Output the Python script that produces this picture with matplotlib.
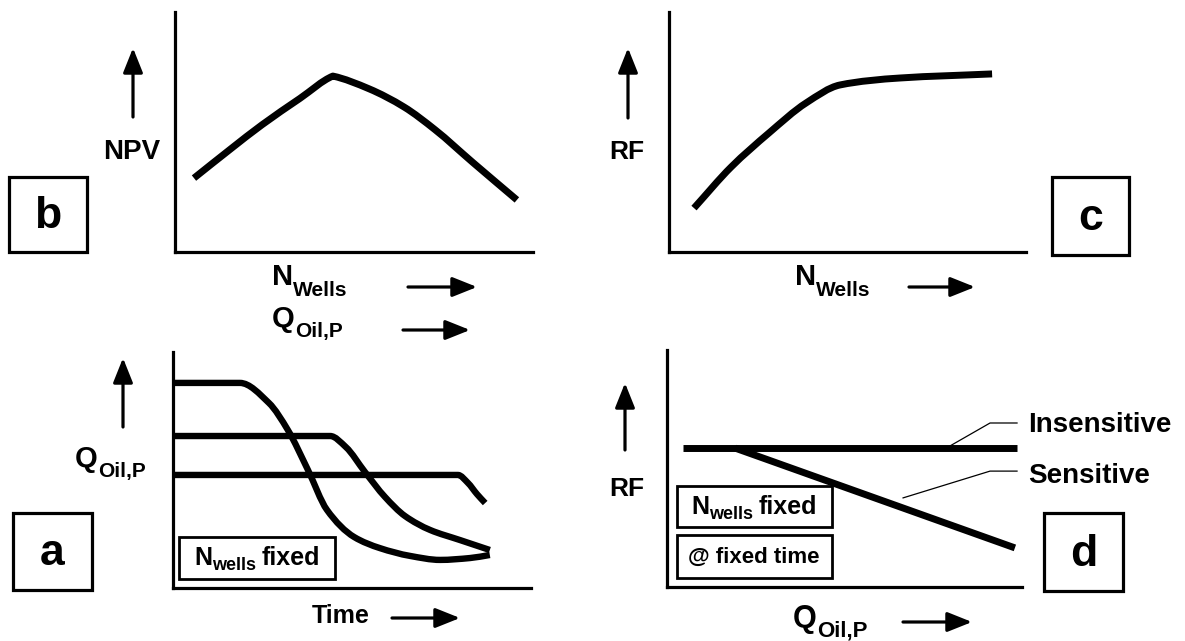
import matplotlib
matplotlib.use("Agg")
import matplotlib.pyplot as plt
from matplotlib.patches import Rectangle, PathPatch
from matplotlib.path import Path

plt.rcParams['font.family'] = ['Liberation Sans', 'DejaVu Sans']
plt.rcParams['font.weight'] = 'bold'

# ---------------- data (arbitrary 0-100 units) ----------------
# panel b: NPV vs number of wells
npv_x = [5.3, 15.6, 24.3, 34.9, 44.1, 54.2, 64.0, 72.6, 83.2, 95.5]
npv_y = [30.8, 43.0, 53.0, 64.0, 73.3, 68.0, 60.4, 51.0, 37.3, 21.7]

# panel c: RF vs number of wells
rf_wells_x = [7.0, 17.4, 28.0, 38.4, 47.9, 64.7, 90.5]
rf_wells_y = [18.3, 35.4, 49.6, 62.1, 69.6, 72.5, 74.2]

# panel a: oil rate vs time, three plateau rates
q_high_t = [0, 18.7, 26.8, 32.1, 37.7, 43.0, 50.6, 57.8, 66.2, 74.6, 83.0, 88.5]
q_high_q = [86.9, 86.9, 78.4, 66.9, 50.0, 33.1, 21.6, 16.9, 13.6, 11.9, 12.7, 14.0]
q_mid_t = [0, 43.9, 48.3, 53.6, 59.2, 64.8, 71.8, 80.2, 88.5]
q_mid_q = [64.4, 64.4, 59.7, 49.2, 38.6, 30.5, 24.6, 20.3, 16.1]
q_low_t = [0, 79.6, 82.4, 84.9, 87.2]
q_low_q = [47.9, 47.9, 44.5, 39.8, 36.0]

# panel d: RF vs plateau rate
insens_x = [4.5, 98.6]
insens_y = [58.6, 58.6]
sens_x = [19.2, 98.0]
sens_y = [58.6, 16.5]
lead_ins_x = [79.7, 91.0, 98.6]
lead_ins_y = [59.5, 69.2, 69.2]
lead_sen_x = [66.5, 91.0, 98.6]
lead_sen_y = [37.6, 48.9, 48.9]

W, H = 1185, 641
fig = plt.figure(figsize=(W / 100, H / 100), dpi=100)
fig.patch.set_facecolor('white')


def fx(x):
    return x / W


def fy(y):
    return 1 - y / H


def make_axes(l, t, r, b):
    ax = fig.add_axes([fx(l), fy(b), (r - l) / W, (b - t) / H])
    ax.set_xlim(0, 100)
    ax.set_ylim(0, 100)
    ax.set_xticks([])
    ax.set_yticks([])
    for s in ['top', 'right']:
        ax.spines[s].set_visible(False)
    for s in ['left', 'bottom']:
        ax.spines[s].set_linewidth(2.3)
    ax.patch.set_alpha(0)
    return ax


def smooth_curve(ax, xs, ys, lw, corners=False):
    """Draw a smooth curve through the points (monotone cubic Hermite rendered as Bezier).
    With corners=True a true local extremum is kept as a (rounded-join) corner."""
    n = len(xs)
    h = [xs[i + 1] - xs[i] for i in range(n - 1)]
    d = [(ys[i + 1] - ys[i]) / h[i] for i in range(n - 1)]
    ml = [0.0] * n
    mr = [0.0] * n
    ml[0] = mr[0] = d[0]
    ml[-1] = mr[-1] = d[-1]
    for i in range(1, n - 1):
        if d[i - 1] * d[i] < 0 and corners:
            ml[i] = d[i - 1] * 0.6
            mr[i] = d[i] * 0.6
        elif d[i - 1] * d[i] <= 0:
            ml[i] = mr[i] = 0.0
        else:
            w1 = 2 * h[i] + h[i - 1]
            w2 = h[i] + 2 * h[i - 1]
            ml[i] = mr[i] = (w1 + w2) / (w1 / d[i - 1] + w2 / d[i])
    verts = [(xs[0], ys[0])]
    codes = [Path.MOVETO]
    for i in range(n - 1):
        c1 = (xs[i] + h[i] / 3, ys[i] + mr[i] * h[i] / 3)
        c2 = (xs[i + 1] - h[i] / 3, ys[i + 1] - ml[i + 1] * h[i] / 3)
        verts += [c1, c2, (xs[i + 1], ys[i + 1])]
        codes += [Path.CURVE4] * 3
    patch = PathPatch(Path(verts, codes), facecolor='none', edgecolor='black',
                      lw=lw, capstyle='butt', joinstyle='round', clip_on=False)
    ax.add_patch(patch)


LW = 5.0
kw = dict(color='black', lw=LW, solid_capstyle='butt', solid_joinstyle='round', clip_on=False)

axb = make_axes(175, 12, 533, 252)
smooth_curve(axb, npv_x, npv_y, LW, corners=True)

axc = make_axes(669, 12, 1026, 252)
smooth_curve(axc, rf_wells_x, rf_wells_y, LW)

axa = make_axes(173, 352, 531, 588)
smooth_curve(axa, q_high_t, q_high_q, 4.6)
smooth_curve(axa, q_mid_t, q_mid_q, 4.6)
smooth_curve(axa, q_low_t, q_low_q, 4.6)

axd = make_axes(667, 350, 1022, 587)
axd.plot(insens_x, insens_y, **kw)
axd.plot(sens_x, sens_y, **kw)
axd.plot(lead_ins_x, lead_ins_y, color='black', lw=0.9, clip_on=False)
axd.plot(lead_sen_x, lead_sen_y, color='black', lw=0.9, clip_on=False)


# ---------------- arrows ----------------
def arrow(x0, y0, x1, y1):
    fig.add_artist(matplotlib.patches.FancyArrowPatch(
        (fx(x0), fy(y0)), (fx(x1), fy(y1)), transform=fig.transFigure,
        arrowstyle='-|>,head_length=0.6,head_width=0.24', mutation_scale=25,
        lw=2.3, color='black', shrinkA=0, shrinkB=0))


arrow(133, 117, 133, 48)
arrow(628, 118, 628, 48)
arrow(123, 427, 123, 358)
arrow(625, 450, 625, 383)
arrow(408, 287, 477, 287)
arrow(403, 330, 470, 330)
arrow(909, 287, 975, 287)
arrow(392, 618, 460, 618)
arrow(903, 622, 972, 622)


# ---------------- text ----------------
def txt(x, y, s, size, ha='left', va='baseline'):
    return fig.text(fx(x), fy(y), s, fontsize=size, ha=ha, va=va,
                    fontweight='bold', color='black')


renderer = fig.canvas.get_renderer()


def sub_label(x, y, parts, center=False):
    """parts: list of (text, size, drop_px, gap_px). Baseline at y (pixel from top)."""
    arts = []
    cx = x
    for (s, size, drop, gap) in parts:
        cx += gap
        t = txt(cx, y + drop, s, size)
        bb = t.get_window_extent(renderer)
        cx = bb.x1
        arts.append(t)
    if center:
        total = cx - x
        shift = -total / 2
        for t in arts:
            px, py = t.get_position()
            t.set_position((px + shift / W, py))
    return arts


txt(132, 152, 'NPV', 20, ha='center', va='center')
txt(627, 152, 'RF', 19, ha='center', va='center')
txt(627, 489, 'RF', 19, ha='center', va='center')

sub_label(272, 285, [('N', 21, 0, 0), ('Wells', 15, 11, 0)])
sub_label(272, 327, [('Q', 21, 0, 0), ('Oil,P', 15, 10, 0)])
sub_label(795, 285, [('N', 21, 0, 0), ('Wells', 15, 11, 0)])
sub_label(75, 467, [('Q', 21, 0, 0), ('Oil,P', 15, 10, 0)])
txt(312, 623, 'Time', 18)
sub_label(793, 627, [('Q', 22, 0, 0), ('Oil,P', 16, 10, 0)])

txt(1028, 432, 'Insensitive', 20)
txt(1028, 483, 'Sensitive', 20)


# ---------------- boxes ----------------
def box(l, t, r, b, lw=2.3):
    fig.add_artist(Rectangle((fx(l), fy(b)), (r - l) / W, (b - t) / H,
                             transform=fig.transFigure, fill=False,
                             edgecolor='black', lw=lw))


for (l, t, r, b, s) in [(9, 177, 87, 252, 'b'), (1052, 177, 1129, 255, 'c'),
                        (13, 513, 92, 590, 'a'), (1044, 513, 1123, 591, 'd')]:
    box(l, t, r, b)
    txt((l + r) / 2, (t + b) / 2 + 2, s, 32, ha='center', va='center')

box(179, 537, 335, 579, lw=2.0)
sub_label(257, 565, [('N', 18, 0, 0), ('wells', 13, 5, 0), ('fixed', 18, 0, 5)], center=True)
box(677, 486, 832, 527, lw=2.0)
sub_label(754, 514, [('N', 18, 0, 0), ('wells', 13, 5, 0), ('fixed', 18, 0, 5)], center=True)
box(677, 535, 832, 578, lw=2.0)
txt(754, 557, '@ fixed time', 16, ha='center', va='center')

fig.savefig('out.png', dpi=100, facecolor='white')
